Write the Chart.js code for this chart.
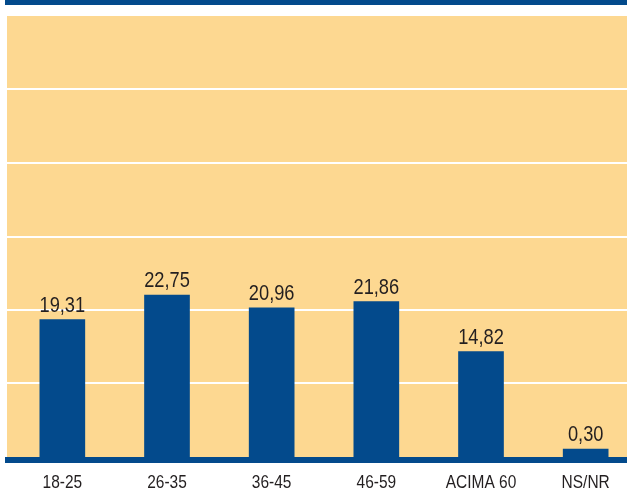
<!DOCTYPE html>
<html>
<head>
<meta charset="utf-8">
<script src="https://cdn.jsdelivr.net/npm/chart.js@4/dist/chart.umd.min.js"></script>
<style>
  html, body { margin: 0; padding: 0; background: #fff; overflow: hidden; }
  #wrap { position: relative; width: 627px; height: 489px; overflow: hidden; }
  #topBand { position: absolute; left: 5px; top: 0; width: 622px; height: 5px; background: #034a8c; }
</style>
</head>
<body>
<div id="wrap">
  <canvas id="ageChart" width="638" height="489"></canvas>
  <div id="topBand"></div>
</div>
<script>
// Age groups and their share (%)
const ageGroups = ["18-25", "26-35", "36-45", "46-59", "ACIMA 60", "NS/NR"];
const shares = [19.31, 22.75, 20.96, 21.86, 14.82, 0.30];

const BLUE = "#034a8c";
const SAND = "#fdd891";
const INK = "#231f20";
const FONT = '"Liberation Sans", Arial, sans-serif';

// narrow text: squeeze a regular face horizontally
function narrowText(ctx, txt, x, y, size, squeeze) {
  ctx.save();
  ctx.font = size + "px " + FONT;
  ctx.textAlign = "center";
  ctx.textBaseline = "alphabetic";
  ctx.translate(x, y);
  ctx.scale(squeeze, 1);
  ctx.fillText(txt, 0, 0);
  ctx.restore();
}

// yellow panel + white rules behind the bars, base line and labels on top
const panelPlugin = {
  id: "panel",
  beforeDatasetsDraw(chart) {
    const { ctx, chartArea, scales } = chart;
    ctx.save();
    ctx.fillStyle = SAND;
    ctx.fillRect(7, chartArea.top, chart.width - 7, chartArea.bottom - chartArea.top);
    ctx.strokeStyle = "#ffffff";
    ctx.lineWidth = 2;
    scales.y.ticks.forEach(t => {
      if (t.value <= 0 || t.value >= scales.y.max) return;
      const y = Math.round(scales.y.getPixelForValue(t.value));
      ctx.beginPath();
      ctx.moveTo(7, y);
      ctx.lineTo(chart.width, y);
      ctx.stroke();
    });
    ctx.restore();
  },
  afterDatasetsDraw(chart) {
    const { ctx, chartArea, scales } = chart;
    ctx.save();
    ctx.fillStyle = BLUE;
    ctx.fillRect(5, chartArea.bottom, chart.width - 5, 6);
    ctx.fillStyle = INK;
    chart.getDatasetMeta(0).data.forEach((bar, i) => {
      const txt = shares[i].toFixed(2).replace(".", ",");
      narrowText(ctx, txt, bar.x, bar.y - 8, 22, 0.83);
    });
    ageGroups.forEach((g, i) => {
      narrowText(ctx, g, scales.x.getPixelForValue(i), chartArea.bottom + 31, 18, 0.86);
    });
    ctx.restore();
  }
};

new Chart(document.getElementById("ageChart"), {
  type: "bar",
  data: {
    labels: ageGroups,
    datasets: [{
      data: shares,
      backgroundColor: BLUE,
      borderWidth: 0,
      barThickness: 45,
      minBarLength: 8
    }]
  },
  options: {
    responsive: false,
    animation: false,
    layout: { padding: { top: 16, left: 10, right: 0, bottom: 32 } },
    plugins: { legend: { display: false }, tooltip: { enabled: false } },
    scales: {
      x: {
        grid: { display: false, drawTicks: false },
        border: { display: false },
        ticks: { display: false }
      },
      y: {
        display: false,
        min: 0,
        max: 62,
        ticks: { count: 7 }
      }
    }
  },
  plugins: [panelPlugin]
});
</script>
</body>
</html>
